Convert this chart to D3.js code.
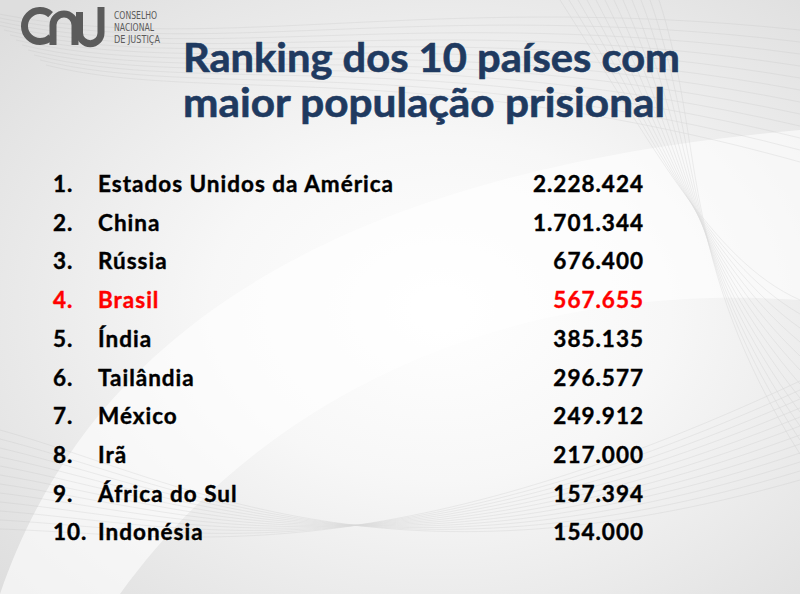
<!DOCTYPE html>
<html>
<head>
<meta charset="utf-8">
<script src="https://cdn.jsdelivr.net/npm/d3@7"></script>
<style>
  html, body { margin: 0; padding: 0; background: #fff; }
  svg { display: block; }
</style>
</head>
<body>
<div id="chart"></div>
<script>
// données du classement
const ranks = ["1.", "2.", "3.", "4.", "5.", "6.", "7.", "8.", "9.", "10."];
const countries = ["Estados Unidos da América", "China", "Rússia", "Brasil", "Índia",
                   "Tailândia", "México", "Irã", "África do Sul", "Indonésia"];
const prisoners = [2228424, 1701344, 676400, 567655, 385135, 296577, 249912, 217000, 157394, 154000];
const highlight = ["Brasil"];

const titleLines = ["Ranking dos 10 países com", "maior população prisional"];
const logoLines = ["CONSELHO", "NACIONAL", "DE JUSTIÇA"];

const width = 800, height = 594;
const svg = d3.select("#chart").append("svg")
    .attr("width", width).attr("height", height);

// fond : dégradé gris clair avec zone blanche au centre
const defs = svg.append("defs");
const grad = defs.append("radialGradient").attr("id", "bg")
    .attr("cx", "55%").attr("cy", "52%").attr("r", "72%");
grad.append("stop").attr("offset", "0%").attr("stop-color", "#ffffff");
grad.append("stop").attr("offset", "40%").attr("stop-color", "#f7f7f7");
grad.append("stop").attr("offset", "100%").attr("stop-color", "#dedede");
svg.append("rect").attr("width", width).attr("height", height).attr("fill", "url(#bg)");

// bande blanche courbe (swoosh)
svg.append("path")
    .attr("d", "M0,594 C90,330 340,170 800,130 L800,300 C500,280 260,400 120,594 Z")
    .attr("fill", "#ffffff").attr("opacity", 0.6);

// fines lignes décoratives
const deco = svg.append("g").attr("fill", "none").attr("stroke", "#bdbdbd")
    .attr("stroke-width", 0.5).attr("opacity", 0.45);
for (let i = 0; i < 12; i++) {
    deco.append("path").attr("d",
        `M${-20 + i * 6},${10 + i * 5} C200,${60 + i * 4} 420,${-10 + i * 6} 800,${30 + i * 12}`);
    deco.append("path").attr("d",
        `M${560 + i * 9},0 C${650 + i * 5},140 ${710 - i * 3},260 800,${300 + i * 14}`);
    deco.append("path").attr("d",
        `M0,${430 + i * 9} C180,${480 + i * 5} 380,${600 - i * 2} 800,${480 - i * 9}`);
}

// logo CNJ
const logo = svg.append("g").attr("fill", "none").attr("stroke", "#5b5b5b")
    .attr("stroke-width", 7);
logo.append("path").attr("d", d3.arc()({ innerRadius: 15.5, outerRadius: 15.5,
    startAngle: 2.35, endAngle: Math.PI * 2 + 0.75 })).attr("transform", "translate(40,26)");
logo.append("path").attr("d", "M53,45 V25 A11,11 0 0 1 75,25 V45");
logo.append("path").attr("d", "M79.5,12 V33 A10.75,10.75 0 0 0 101,33 V7");
svg.append("g").selectAll("text").data(logoLines).join("text")
    .attr("x", 114).attr("y", (d, i) => 19 + i * 12)
    .attr("font-family", "'Liberation Sans Narrow', 'DejaVu Sans Condensed', sans-serif")
    .attr("font-size", 10.5).attr("fill", "#5b5b5b")
    .attr("textLength", (d, i) => [43, 40, 46][i]).attr("lengthAdjust", "spacingAndGlyphs")
    .text(d => d);

// titre
svg.append("g").selectAll("text").data(titleLines).join("text")
    .attr("x", 183).attr("y", (d, i) => 72 + i * 45)
    .attr("font-family", "Lato, 'Open Sans', sans-serif").attr("font-weight", "bold")
    .attr("font-size", 40).attr("fill", "#1f3a60")
    .attr("stroke", "#1f3a60").attr("stroke-width", 0.6)
    .attr("textLength", (d, i) => [497, 482][i]).attr("lengthAdjust", "spacingAndGlyphs")
    .text(d => d);

// échelle verticale des lignes
const y = d3.scalePoint().domain(countries).range([192, 540.4]);
const fmt = d3.formatLocale({ decimal: ",", thousands: ".", grouping: [3], currency: ["", ""] }).format(",d");

const rows = svg.append("g")
    .attr("font-family", "Lato, 'Open Sans', sans-serif").attr("font-weight", "bold")
    .attr("font-size", 22.5).attr("letter-spacing", 1).attr("stroke-width", 0.4)
    .selectAll("g").data(countries).join("g")
    .attr("transform", d => `translate(0,${y(d)})`)
    .attr("fill", d => highlight.includes(d) ? "#ff0000" : "#000000")
    .attr("stroke", d => highlight.includes(d) ? "#ff0000" : "#000000");

rows.append("text").attr("x", 53).text((d, i) => ranks[i]);
rows.append("text").attr("x", 98).text(d => d);
rows.append("text").attr("x", 644).attr("text-anchor", "end").text((d, i) => fmt(prisoners[i]));
</script>
</body>
</html>
